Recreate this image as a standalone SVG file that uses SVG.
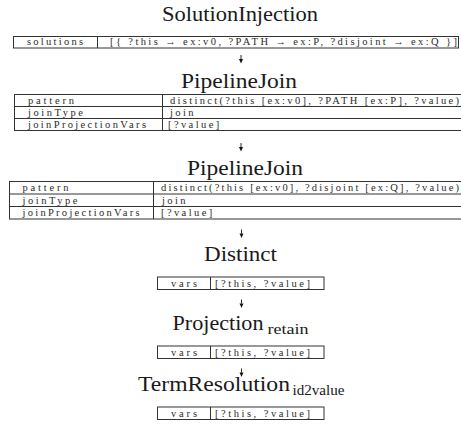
<svg xmlns="http://www.w3.org/2000/svg" width="461" height="432" viewBox="0 0 461 432">
  <style>
    .title { font-family: 'Liberation Serif', 'Times New Roman', serif; font-size: 21.5px; fill: #1a1a1a; }
    .sub { font-family: 'Liberation Serif', 'Times New Roman', serif; font-size: 15px; fill: #1a1a1a; }
    .cell { font-family: 'Liberation Serif', 'Times New Roman', serif; font-size: 10.5px; fill: #2a2a2a; }
    .sp { letter-spacing: 2.4px; }
    .box { fill: #fff; stroke: #333; stroke-width: 1; }
    .rule { stroke: #333; stroke-width: 1; fill: none; }
    .stem { stroke: #111; stroke-width: 0.9; fill: none; }
    .head { fill: #111; }
  </style>

  <!-- SolutionInjection -->
  <g id="solution-injection">
    <text class="title" x="162" y="21" textLength="156" lengthAdjust="spacingAndGlyphs">SolutionInjection</text>
    <rect class="box" x="13.5" y="36.5" width="445" height="11.5"/>
    <line class="rule" x1="97.5" y1="36.5" x2="97.5" y2="48"/>
    <text class="cell" x="27" y="45" textLength="56" lengthAdjust="spacing">solutions</text>
    <text class="cell" x="110" y="45" textLength="347" lengthAdjust="spacing">[{ ?this → ex:v0, ?PATH → ex:P, ?disjoint → ex:Q }]</text>
  </g>

  <!-- PipelineJoin (PATH) -->
  <g id="pipeline-join-1">
    <text class="title" x="181" y="88" textLength="116" lengthAdjust="spacingAndGlyphs">PipelineJoin</text>
    <rect class="box" x="14.5" y="94.5" width="450" height="36"/>
    <line class="rule" x1="14.5" y1="106.5" x2="461" y2="106.5"/>
    <line class="rule" x1="14.5" y1="118.5" x2="461" y2="118.5"/>
    <line class="rule" x1="162.5" y1="94.5" x2="162.5" y2="130.5"/>
    <text class="cell" x="28" y="103.5" textLength="46" lengthAdjust="spacing">pattern</text>
    <text class="cell" x="28" y="115.5" textLength="55" lengthAdjust="spacing">joinType</text>
    <text class="cell" x="28" y="127.5" textLength="118" lengthAdjust="spacing">joinProjectionVars</text>
    <text class="cell" x="170" y="103.5" textLength="289" lengthAdjust="spacing">distinct(?this [ex:v0], ?PATH [ex:P], ?value)</text>
    <text class="cell sp" x="170" y="115.5">join</text>
    <text class="cell sp" x="168" y="127.5">[?value]</text>
  </g>

  <!-- PipelineJoin (disjoint) -->
  <g id="pipeline-join-2">
    <text class="title" x="187" y="175" textLength="116" lengthAdjust="spacingAndGlyphs">PipelineJoin</text>
    <rect class="box" x="9.5" y="181.5" width="455" height="37.5"/>
    <line class="rule" x1="9.5" y1="194" x2="461" y2="194"/>
    <line class="rule" x1="9.5" y1="206.5" x2="461" y2="206.5"/>
    <line class="rule" x1="153.5" y1="181.5" x2="153.5" y2="219"/>
    <text class="cell" x="22.5" y="191" textLength="46" lengthAdjust="spacing">pattern</text>
    <text class="cell" x="22.5" y="203.5" textLength="55" lengthAdjust="spacing">joinType</text>
    <text class="cell" x="22.5" y="216" textLength="117" lengthAdjust="spacing">joinProjectionVars</text>
    <text class="cell" x="161" y="191" textLength="298" lengthAdjust="spacing">distinct(?this [ex:v0], ?disjoint [ex:Q], ?value)</text>
    <text class="cell sp" x="162" y="203.5">join</text>
    <text class="cell sp" x="161" y="216">[?value]</text>
  </g>

  <!-- Distinct -->
  <g id="distinct">
    <text class="title" x="204" y="260.5" textLength="73" lengthAdjust="spacingAndGlyphs">Distinct</text>
    <rect class="box" x="157.5" y="277" width="166.5" height="12.5"/>
    <line class="rule" x1="210.5" y1="277" x2="210.5" y2="289.5"/>
    <text class="cell" x="171" y="286.5" textLength="26" lengthAdjust="spacing">vars</text>
    <text class="cell" x="215" y="286.5" textLength="95" lengthAdjust="spacing">[?this, ?value]</text>
  </g>

  <!-- Projection (retain) -->
  <g id="projection-retain">
    <text class="title" x="172.5" y="330" textLength="91" lengthAdjust="spacingAndGlyphs">Projection</text>
    <text class="sub" x="267.5" y="333.5" textLength="41" lengthAdjust="spacingAndGlyphs">retain</text>
    <rect class="box" x="157.5" y="346" width="166.5" height="12.5"/>
    <line class="rule" x1="210.5" y1="346" x2="210.5" y2="358.5"/>
    <text class="cell" x="171" y="355.5" textLength="26" lengthAdjust="spacing">vars</text>
    <text class="cell" x="215" y="355.5" textLength="95" lengthAdjust="spacing">[?this, ?value]</text>
  </g>

  <!-- TermResolution (id2value) -->
  <g id="term-resolution">
    <text class="title" x="138" y="391" textLength="152" lengthAdjust="spacingAndGlyphs">TermResolution</text>
    <text class="sub" x="292.5" y="395" textLength="52" lengthAdjust="spacingAndGlyphs">id2value</text>
    <rect class="box" x="157.5" y="407" width="166.5" height="12.5"/>
    <line class="rule" x1="210.5" y1="407" x2="210.5" y2="419.5"/>
    <text class="cell" x="171" y="416.5" textLength="26" lengthAdjust="spacing">vars</text>
    <text class="cell" x="215" y="416.5" textLength="95" lengthAdjust="spacing">[?this, ?value]</text>
  </g>

  <!-- connectors: short downward arrows between stages -->
  <g id="connectors">
    <line class="stem" x1="241" y1="55" x2="241" y2="59"/>
    <polygon class="head" points="239,59 243,59 241,63.5"/>
    <line class="stem" x1="241" y1="143" x2="241" y2="147"/>
    <polygon class="head" points="239,147 243,147 241,151.5"/>
    <line class="stem" x1="241.5" y1="229.5" x2="241.5" y2="233.5"/>
    <polygon class="head" points="239.5,233.5 243.5,233.5 241.5,238"/>
    <line class="stem" x1="241.5" y1="299.5" x2="241.5" y2="303.5"/>
    <polygon class="head" points="239.5,303.5 243.5,303.5 241.5,308"/>
    <line class="stem" x1="241.5" y1="368.5" x2="241.5" y2="372.5"/>
    <polygon class="head" points="239.5,372.5 243.5,372.5 241.5,377"/>
  </g>
</svg>
